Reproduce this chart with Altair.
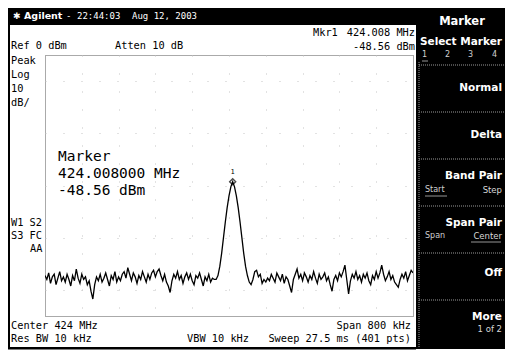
import altair as alt
import pandas as pd

# ---------------- data ----------------
start_mhz = 423.6
stop_mhz = 424.4
step_khz = 4

left_noise_dbm = [
    -84.5, -86.0, -83.5, -87.5, -85.0, -84.0, -88.0, -85.5, -83.0, -86.5,
    -85.0, -87.0, -84.0, -86.0, -88.5, -84.5, -86.5, -82.0, -85.5, -87.5,
    -84.0, -86.0, -85.0, -88.0, -86.5, -90.5, -93.5, -88.0, -85.0, -86.5,
    -84.0, -87.0, -85.5, -83.5, -86.0, -88.5, -84.5, -86.0, -83.0, -87.0,
    -85.0, -86.5, -84.0, -83.0, -85.5, -81.5, -84.0, -86.5, -83.5, -85.0,
    -87.5, -84.5, -86.0, -83.0, -85.0, -87.0, -84.0, -86.0, -83.5, -82.5,
    -85.0, -83.0, -82.0, -84.5, -86.5, -84.0, -87.0, -88.5, -91.0, -86.5,
    -84.0, -85.5, -83.0, -86.0, -84.5, -87.5, -85.0, -83.5, -86.0, -84.0,
    -86.5, -88.0, -84.5, -85.5, -83.5, -86.0, -88.5, -85.0, -86.5, -84.0,
    -87.0, -85.5, -86.0,
]
peak_dbm = [
    -86.0, -84.5, -81.0, -76.0, -70.0, -64.0, -58.5, -54.0, -50.5, -48.56,
    -50.5, -54.0, -58.5, -64.0, -70.0, -76.0, -81.0, -84.5, -87.0,
]
right_noise_dbm = [
    -88.0, -86.0, -83.0, -82.5, -85.0, -84.0, -87.5, -86.0, -87.0, -85.5,
    -86.5, -84.0, -85.5, -87.0, -83.5, -85.0, -86.5, -84.0, -87.5, -85.0,
    -86.0, -88.5, -91.0, -86.0, -84.0, -82.0, -85.5, -84.0, -86.5, -83.5,
    -85.0, -87.0, -84.5, -86.0, -83.0, -85.5, -87.5, -84.0, -86.0, -85.0,
    -83.5, -86.5, -85.0, -88.0, -90.5, -86.0, -84.5, -86.5, -83.5, -85.0,
    -83.0, -80.5, -86.0, -91.5, -86.5, -84.0, -85.5, -83.0, -86.0, -84.5,
    -87.0, -84.0, -85.5, -83.5, -86.5, -88.0, -84.5, -86.0, -83.0, -85.5,
    -83.5, -80.5, -84.0, -86.5, -85.0, -83.0, -86.0, -84.5, -87.0, -88.0,
    -89.0, -86.0, -84.0, -85.5, -83.0, -86.5, -84.5, -82.5, -83.5,
]
trace_dbm = left_noise_dbm + peak_dbm + right_noise_dbm
freq_mhz = [round(start_mhz + i * step_khz / 1000.0, 4) for i in range(len(trace_dbm))]

marker_freq_mhz = [424.008]
marker_dbm = [-48.56]
marker_id = ["1"]

ref_dbm = 0
bottom_dbm = -100
grid_x = [423.68, 423.76, 423.84, 423.92, 424.0, 424.08, 424.16, 424.24, 424.32]
grid_y = [-10, -20, -30, -40, -50, -60, -70, -80, -90]

header_texts = ["\u2731", "Agilent", "-", "22:44:03", "Aug 12, 2003"]
info_left_texts = ["Ref 0 dBm", "Atten 10 dB", "Peak", "Log", "10", "dB/",
                   "W1 S2", "S3 FC", "AA", "Center 424 MHz", "Res BW 10 kHz",
                   "VBW 10 kHz", "Mkr1"]
info_right_texts = ["424.008 MHz", "-48.56 dBm", "Span 800 kHz", "Sweep 27.5 ms (401 pts)"]
marker_big_texts = ["Marker", "424.008000 MHz", "-48.56 dBm"]
softkey_title = ["Marker"]
softkey_texts = ["Select Marker", "Normal", "Delta", "Band Pair", "Span Pair", "Off", "More"]
softkey_small_left = ["1", "2", "3", "4", "Start", "Span"]
softkey_small_right = ["Step", "Center", "1 of 2"]

# ---------------- layout ----------------
PL, PT = 45, 55          # plot origin on the page
W, H = 368, 261


def px(sx):
    return sx - PL


def py(sy):
    return sy - PT


MONO = "DejaVu Sans Mono"
SANS = "DejaVu Sans"

xscale = alt.Scale(domain=[start_mhz, stop_mhz], nice=False, zero=False)
yscale = alt.Scale(domain=[bottom_dbm, ref_dbm], nice=False, zero=False)

trace_df = pd.DataFrame({"freq": freq_mhz, "dbm": trace_dbm})
marker_df = pd.DataFrame({"freq": marker_freq_mhz, "dbm": marker_dbm, "id": marker_id})

trace = alt.Chart(trace_df).mark_line(color="black", strokeWidth=1.3, clip=True).encode(
    x=alt.X("freq:Q", scale=xscale, title="",
            axis=alt.Axis(values=grid_x, grid=True, labels=False, ticks=False, domain=False,
                          gridColor="#c4c4c4", gridDash=[1, 17], gridWidth=1)),
    y=alt.Y("dbm:Q", scale=yscale, title="",
            axis=alt.Axis(values=grid_y, grid=True, labels=False, ticks=False, domain=False,
                          gridColor="#c4c4c4", gridDash=[1, 17], gridWidth=1)),
)
marker_pt = alt.Chart(marker_df).mark_point(
    shape="diamond", filled=False, color="black", size=36, strokeWidth=1.4
).encode(x=alt.X("freq:Q", scale=xscale), y=alt.Y("dbm:Q", scale=yscale))
marker_lbl = alt.Chart(marker_df).mark_text(
    font=MONO, fontSize=7, color="black", dy=-10
).encode(x=alt.X("freq:Q", scale=xscale), y=alt.Y("dbm:Q", scale=yscale), text="id:N")

data_layer = alt.layer(trace, marker_pt, marker_lbl)


def enc_pos():
    return dict(x=alt.X("x:Q", scale=None, axis=None),
                y=alt.Y("y:Q", scale=None, axis=None))


# black panels / borders
rects = pd.DataFrame([
    dict(x=px(8), x2=px(417), y=py(8), y2=py(25), c="black"),      # header bar
    dict(x=px(416), x2=px(505), y=py(8), y2=py(349), c="black"),   # softkey panel
    dict(x=px(8), x2=px(416), y=py(347), y2=py(349.5), c="black"), # bottom border
    dict(x=px(8), x2=px(10), y=py(25), y2=py(349), c="black"),     # left border
])
rect_layer = alt.Chart(rects).mark_rect().encode(
    x2="x2:Q", y2="y2:Q", color=alt.Color("c:N", scale=None), **enc_pos()
)

# softkey separators (dotted)
sep_rows = [dict(x=px(419), x2=px(505), y=py(s), y2=py(s)) for s in [65, 112, 159, 206, 253, 300]]
sep_rows.append(dict(x=px(419), x2=px(419), y=py(62), y2=py(347)))
sep_layer = alt.Chart(pd.DataFrame(sep_rows)).mark_rule(
    color="#9a9a9a", strokeDash=[1, 1], strokeWidth=1
).encode(x2="x2:Q", y2="y2:Q", **enc_pos())

# underlines
ul_rows = [dict(x=px(422), x2=px(428), y=py(61), y2=py(61)),
           dict(x=px(425), x2=px(447), y=py(196), y2=py(196)),
           dict(x=px(471), x2=px(501), y=py(242), y2=py(242))]
ul_layer = alt.Chart(pd.DataFrame(ul_rows)).mark_rule(color="#bbbbbb", strokeWidth=0.8).encode(
    x2="x2:Q", y2="y2:Q", **enc_pos())


def text_layer(texts, positions, **kw):
    rows = [dict(t=t, x=px(p[0]), y=py(p[1])) for t, p in zip(texts, positions)]
    return alt.Chart(pd.DataFrame(rows)).mark_text(baseline="middle", **kw).encode(
        text="t:N", **enc_pos())


hdr_sym = text_layer(header_texts[:1], [(13, 16)], font=SANS, fontSize=9, color="white", align="left")
hdr_brand = text_layer(header_texts[1:2], [(24, 16)], font=SANS, fontSize=9.5, fontWeight="bold",
                       color="white", align="left")
hdr_rest = text_layer(header_texts[2:], [(66, 16), (77, 16), (132, 16)], font=MONO, fontSize=9,
                      color="white", align="left")

info_left = text_layer(
    info_left_texts,
    [(11, 46), (115, 46), (11, 61), (11, 75), (11, 89), (11, 103), (11, 223), (11, 236), (30, 249),
     (11, 326), (11, 339), (187, 339), (313, 33)],
    font=MONO, fontSize=10.3, color="black", align="left")
info_right = text_layer(info_right_texts, [(415, 33), (415, 47), (411, 326), (411, 339)],
                        font=MONO, fontSize=10.3, color="black", align="right")

big = text_layer(marker_big_texts, [(58, 157), (58, 174), (58, 191)],
                 font=MONO, fontSize=14.5, color="black", align="left")

RX = 502
sk_title = text_layer(softkey_title, [(462, 22)], font=SANS, fontSize=11.5, fontWeight="bold",
                      color="white", align="center")
sk_main = text_layer(softkey_texts, [(RX, 42), (RX, 88), (RX, 135), (RX, 176), (RX, 223),
                                     (RX, 273), (RX, 317)],
                     font=SANS, fontSize=10.5, fontWeight="bold", color="white", align="right")
sk_small_l = text_layer(softkey_small_left, [(422, 55), (445, 55), (468, 55), (492, 55),
                                             (425, 190), (425, 236)],
                        font=SANS, fontSize=8, color="#d0d0d0", align="left")
sk_small_r = text_layer(softkey_small_right, [(RX, 190), (RX, 236), (RX, 329)],
                        font=SANS, fontSize=8.5, color="#d8d8d8", align="right")

chart = alt.layer(
    data_layer, rect_layer, sep_layer, ul_layer,
    hdr_sym, hdr_brand, hdr_rest, info_left, info_right, big,
    sk_title, sk_main, sk_small_l, sk_small_r,
).resolve_scale(x="independent", y="independent").properties(
    width=W, height=H,
    padding={"left": 37, "top": 47, "right": 92, "bottom": 40},
    autosize=alt.AutoSizeParams(type="none"),
    background="white",
).configure_view(stroke="#555555", strokeDash=[1, 1], strokeWidth=1)

chart.save("out.html", embed_options={"renderer": "svg", "actions": False})
